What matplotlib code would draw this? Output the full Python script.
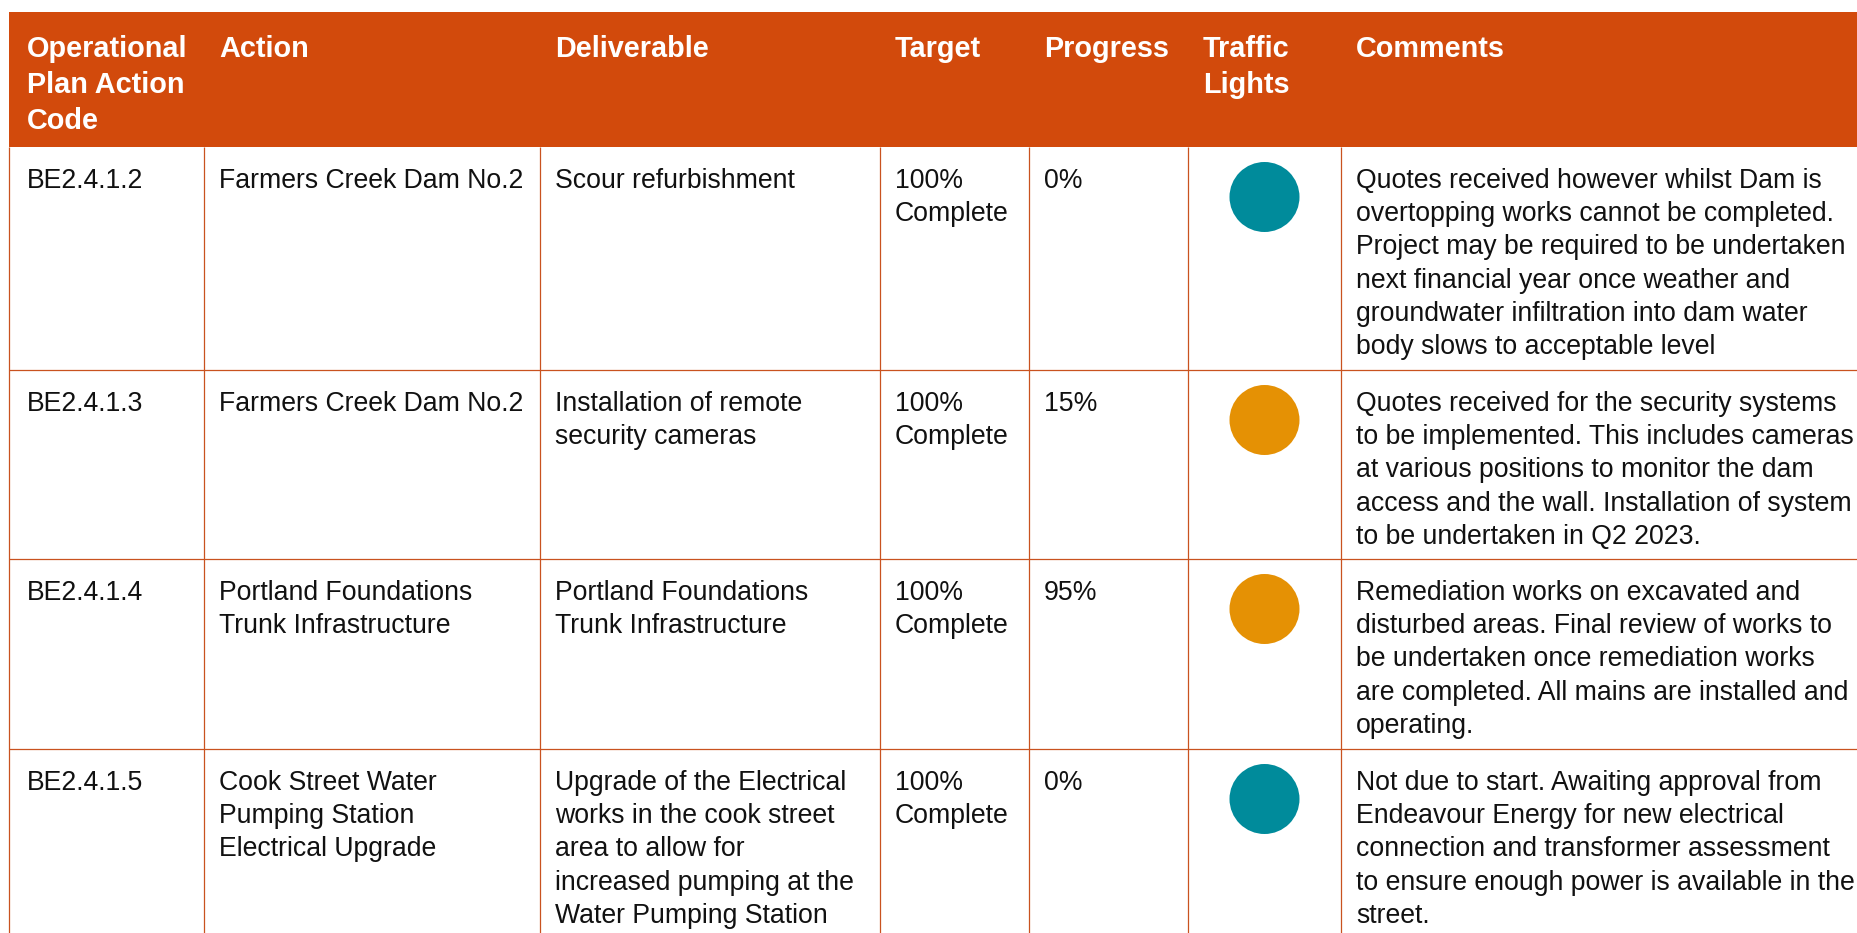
import matplotlib
matplotlib.use("Agg")
import matplotlib.pyplot as plt
from matplotlib.patches import Rectangle, Ellipse

# ---------------- data ----------------
headers = [
    ["Operational", "Plan Action", "Code"],
    ["Action"],
    ["Deliverable"],
    ["Target"],
    ["Progress"],
    ["Traffic", "Lights"],
    ["Comments"],
]
codes = ["BE2.4.1.2", "BE2.4.1.3", "BE2.4.1.4", "BE2.4.1.5"]
actions = [
    ["Farmers Creek Dam No.2"],
    ["Farmers Creek Dam No.2"],
    ["Portland Foundations", "Trunk Infrastructure"],
    ["Cook Street Water", "Pumping Station", "Electrical Upgrade"],
]
deliverables = [
    ["Scour refurbishment"],
    ["Installation of remote", "security cameras"],
    ["Portland Foundations", "Trunk Infrastructure"],
    ["Upgrade of the Electrical", "works in the cook street", "area to allow for",
     "increased pumping at the", "Water Pumping Station"],
]
targets = [["100%", "Complete"]] * 4
progress = ["0%", "15%", "95%", "0%"]
traffic = ["teal", "amber", "amber", "teal"]
comments = [
    ["Quotes received however whilst Dam is", "overtopping works cannot be completed.",
     "Project may be required to be undertaken", "next financial year once weather and",
     "groundwater infiltration into dam water", "body slows to acceptable level"],
    ["Quotes received for the security systems", "to be implemented. This includes cameras",
     "at various positions to monitor the dam", "access and the wall. Installation of system",
     "to be undertaken in Q2 2023."],
    ["Remediation works on excavated and", "disturbed areas. Final review of works to",
     "be undertaken once remediation works", "are completed. All mains are installed and",
     "operating."],
    ["Not due to start. Awaiting approval from", "Endeavour Energy for new electrical",
     "connection and transformer assessment", "to ensure enough power is available in the",
     "street."],
]

# ---------------- style / layout ----------------
W, H = 1858, 933
ORANGE = "#D24A0C"
LINE = "#C9521F"
COLORS = {"teal": "#008B9B", "amber": "#E59104"}
FONT = "Liberation Sans"
BODY_SIZE = 19.2
HEAD_SIZE = 20.8

col_lines = [9, 204, 540, 880, 1029, 1188, 1341]
text_x = [27, 219, 555, 895, 1044, 1203, 1356]
header_top, header_bot = 12, 147
row_bounds = [147, 370, 559, 749, 940]
body_first = 41
body_step = 33.2
head_first = 45
head_step = 36

fig = plt.figure(figsize=(W / 100, H / 100), dpi=100)
ax = fig.add_axes([0, 0, 1, 1])
ax.set_xlim(0, W)
ax.set_ylim(H, 0)
ax.axis("off")

# header band
ax.add_patch(Rectangle((col_lines[0], header_top), W - col_lines[0] + 5,
                       header_bot - header_top, facecolor=ORANGE, edgecolor="none"))
for ci, lines in enumerate(headers):
    for li, s in enumerate(lines):
        ax.text(text_x[ci], header_top + head_first + li * head_step, s,
                color="white", fontsize=HEAD_SIZE, fontweight="bold",
                family=FONT, va="baseline", ha="left")

# grid lines
for x in col_lines:
    ax.plot([x, x], [header_bot, H + 5], color=LINE, lw=0.9, solid_capstyle="butt")
for y in row_bounds[1:-1]:
    ax.plot([col_lines[0], W + 5], [y, y], color=LINE, lw=0.9, solid_capstyle="butt")

# body
for r in range(len(codes)):
    top = row_bounds[r]
    cells = [[codes[r]], actions[r], deliverables[r], targets[r], [progress[r]], [], comments[r]]
    for ci, lines in enumerate(cells):
        for li, s in enumerate(lines):
            ax.text(text_x[ci], top + body_first + li * body_step, s,
                    color="#111111", fontsize=BODY_SIZE, family=FONT,
                    va="baseline", ha="left")
    cx = (col_lines[5] + col_lines[6]) / 2
    ax.add_patch(Ellipse((cx, top + 50), 70, 70, facecolor=COLORS[traffic[r]],
                         edgecolor="none"))

fig.savefig("out.png", dpi=100, facecolor="white")
